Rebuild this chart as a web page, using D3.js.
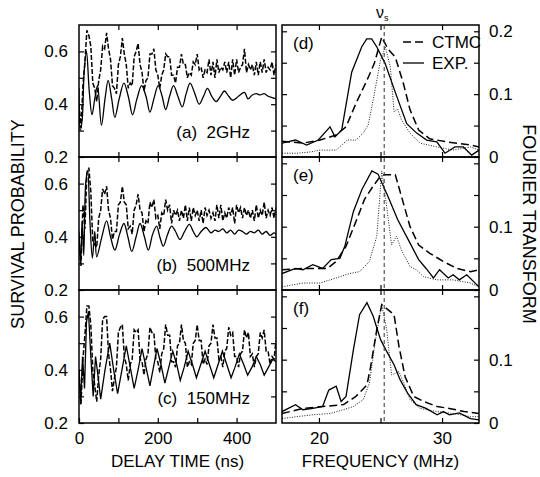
<!DOCTYPE html>
<html>
<head>
<meta charset="utf-8">
<script src="https://cdn.jsdelivr.net/npm/d3@7"></script>
<style>
body { margin: 0; background: #fff; }
.font { font-family: "Liberation Sans", Arial, Helvetica, sans-serif; fill: #000; }
.axis-title { font-size: 17px; }
.side-title { font-size: 18px; }
.panel-label { font-size: 17px; }
.frame { fill: none; stroke: #000; stroke-width: 1.5; }
.axis .domain { display: none; }
.axis line { stroke: #000; stroke-width: 1.2; }
.exp-line { fill: none; stroke: #000; stroke-width: 1.3; }
.ctmc-left { fill: none; stroke: #000; stroke-width: 1.5; stroke-dasharray: 5,2; }
.ctmc-right { fill: none; stroke: #000; stroke-width: 1.5; stroke-dasharray: 8,4; }
.dotted-line { fill: none; stroke: #000; stroke-width: 0.9; stroke-dasharray: 1,1.5; }
.nu-line { stroke: #333; stroke-width: 1; stroke-dasharray: 4,3; }
</style>
</head>
<body>
<svg id="chart" width="540" height="477"></svg>
<script>
// ---- data ----
const panelNames = ["2GHz", "500MHz", "150MHz"];
const panelLetterLeft = ["(a)", "(b)", "(c)"];
const panelLetterRight = ["(d)", "(e)", "(f)"];

// CTMC survival probability, sampled every 5 ns (0..500)
const delayTime = d3.range(0, 501, 5);
const ctmc2GHz = [
    0.40, 0.31, 0.47, 0.56, 0.68, 0.66, 0.62, 0.48, 0.46, 0.41,
    0.49, 0.53, 0.62, 0.61, 0.67, 0.61, 0.57, 0.47, 0.46, 0.44,
    0.55, 0.58, 0.65, 0.59, 0.55, 0.46, 0.48, 0.47, 0.58, 0.60,
    0.63, 0.55, 0.52, 0.45, 0.49, 0.50, 0.59, 0.59, 0.61, 0.53,
    0.51, 0.46, 0.51, 0.53, 0.59, 0.58, 0.58, 0.51, 0.51, 0.48,
    0.54, 0.54, 0.59, 0.55, 0.55, 0.50, 0.52, 0.51, 0.56, 0.55,
    0.59, 0.53, 0.54, 0.50, 0.53, 0.52, 0.57, 0.51, 0.56, 0.50,
    0.57, 0.52, 0.54, 0.53, 0.56, 0.52, 0.56, 0.50, 0.57, 0.51,
    0.57, 0.52, 0.54, 0.55, 0.61, 0.52, 0.55, 0.53, 0.55, 0.51,
    0.56, 0.51, 0.56, 0.52, 0.57, 0.52, 0.54, 0.53, 0.56, 0.51,
    0.55
];
const ctmc500MHz = [
    0.40, 0.29, 0.52, 0.43, 0.64, 0.66, 0.57, 0.38, 0.37, 0.36,
    0.47, 0.50, 0.58, 0.56, 0.59, 0.50, 0.47, 0.39, 0.42, 0.42,
    0.52, 0.53, 0.59, 0.53, 0.52, 0.43, 0.44, 0.41, 0.50, 0.52,
    0.56, 0.50, 0.49, 0.42, 0.46, 0.45, 0.53, 0.51, 0.54, 0.47,
    0.48, 0.43, 0.49, 0.48, 0.54, 0.50, 0.52, 0.45, 0.50, 0.48,
    0.50, 0.46, 0.50, 0.47, 0.52, 0.46, 0.51, 0.46, 0.51, 0.48,
    0.50, 0.46, 0.50, 0.45, 0.51, 0.48, 0.50, 0.47, 0.49, 0.46,
    0.52, 0.47, 0.52, 0.46, 0.49, 0.47, 0.51, 0.48, 0.51, 0.45,
    0.52, 0.49, 0.51, 0.47, 0.51, 0.48, 0.50, 0.47, 0.50, 0.46,
    0.52, 0.47, 0.50, 0.48, 0.53, 0.47, 0.50, 0.48, 0.51, 0.47,
    0.51
];
const ctmc150MHz = [
    0.40, 0.27, 0.44, 0.53, 0.64, 0.64, 0.57, 0.40, 0.34, 0.28,
    0.38, 0.44, 0.59, 0.60, 0.60, 0.46, 0.40, 0.32, 0.37, 0.41,
    0.54, 0.56, 0.57, 0.45, 0.42, 0.36, 0.42, 0.44, 0.55, 0.54,
    0.55, 0.44, 0.43, 0.38, 0.44, 0.46, 0.56, 0.54, 0.54, 0.44,
    0.43, 0.39, 0.46, 0.48, 0.57, 0.53, 0.53, 0.43, 0.43, 0.41,
    0.49, 0.50, 0.57, 0.51, 0.50, 0.41, 0.43, 0.42, 0.50, 0.51,
    0.57, 0.51, 0.51, 0.42, 0.44, 0.42, 0.49, 0.50, 0.57, 0.52,
    0.52, 0.44, 0.45, 0.41, 0.47, 0.48, 0.56, 0.53, 0.54, 0.45,
    0.45, 0.41, 0.46, 0.47, 0.55, 0.52, 0.54, 0.45, 0.46, 0.41,
    0.45, 0.46, 0.54, 0.52, 0.55, 0.47, 0.47, 0.42, 0.45, 0.44,
    0.51
];

// experiment, [delay ns, probability]
const exp2GHz = [
    [0, 0.46], [3, 0.30], [8, 0.34], [13, 0.52], [19, 0.60], [26, 0.45], [33, 0.36],
    [40, 0.42], [47, 0.47], [57, 0.32], [66, 0.42], [74, 0.49], [83, 0.42], [91, 0.35],
    [102, 0.42], [114, 0.48], [125, 0.43], [136, 0.36], [147, 0.42], [159, 0.47],
    [170, 0.43], [180, 0.37], [190, 0.42], [201, 0.47], [211, 0.43], [220, 0.38],
    [230, 0.43], [240, 0.47], [251, 0.43], [262, 0.39], [272, 0.44], [282, 0.48],
    [294, 0.44], [305, 0.40], [316, 0.43], [326, 0.46], [337, 0.43], [348, 0.41],
    [359, 0.43], [369, 0.45], [380, 0.43], [390, 0.415], [405, 0.43], [420, 0.445],
    [429, 0.42], [440, 0.435], [450, 0.44], [460, 0.435], [470, 0.44], [480, 0.43],
    [490, 0.425], [500, 0.42]
];
const exp500MHz = [
    [0, 0.42], [4, 0.30], [8, 0.46], [12, 0.33], [17, 0.60], [22, 0.65], [28, 0.45],
    [34, 0.32], [40, 0.42], [45, 0.325], [58, 0.40], [70, 0.46], [80, 0.40], [91, 0.35],
    [103, 0.41], [114, 0.45], [124, 0.40], [134, 0.345], [145, 0.40], [155, 0.45],
    [166, 0.40], [176, 0.35], [187, 0.41], [197, 0.44], [205, 0.40], [214, 0.365],
    [225, 0.41], [235, 0.44], [245, 0.42], [256, 0.39], [268, 0.42], [280, 0.447],
    [290, 0.42], [299, 0.40], [310, 0.42], [322, 0.435], [335, 0.415], [345, 0.425],
    [355, 0.42], [365, 0.43], [375, 0.415], [385, 0.425], [395, 0.41], [405, 0.425],
    [415, 0.42], [425, 0.41], [435, 0.42], [445, 0.415], [455, 0.425], [465, 0.41],
    [475, 0.42], [485, 0.405], [495, 0.415], [500, 0.41]
];
const exp150MHz = [
    [0, 0.40], [4, 0.27], [9, 0.45], [14, 0.33], [19, 0.58], [24, 0.62], [30, 0.45],
    [36, 0.30], [42, 0.45], [48, 0.38], [55, 0.29], [66, 0.40], [78, 0.50], [88, 0.40],
    [98, 0.31], [109, 0.40], [120, 0.49], [130, 0.41], [140, 0.33], [150, 0.40],
    [160, 0.48], [170, 0.41], [180, 0.34], [189, 0.41], [198, 0.48], [208, 0.42],
    [218, 0.35], [228, 0.41], [238, 0.47], [248, 0.42], [257, 0.36], [267, 0.41],
    [277, 0.47], [288, 0.42], [298, 0.37], [309, 0.42], [320, 0.47], [331, 0.42],
    [342, 0.37], [353, 0.42], [364, 0.47], [375, 0.42], [386, 0.37], [396, 0.41],
    [407, 0.46], [418, 0.42], [428, 0.38], [439, 0.41], [450, 0.45], [460, 0.42],
    [470, 0.38], [481, 0.41], [492, 0.44], [500, 0.43]
];

// Fourier transforms, [frequency MHz, amplitude]
const ftExp2GHz = [
    [17.0, 0.022], [18.1, 0.027], [19.0, 0.019], [19.95, 0.027], [20.9, 0.048],
    [21.3, 0.032], [21.85, 0.043], [22.66, 0.135], [23.47, 0.175], [23.88, 0.188],
    [24.28, 0.188], [24.7, 0.175], [25.37, 0.149], [26.18, 0.104], [27.13, 0.053],
    [27.94, 0.038], [28.75, 0.027], [29.57, 0.024], [30.24, 0.006], [31.05, 0.016],
    [31.73, 0.016], [32.41, 0.003], [33.0, 0.011]
];
const ftCtmc2GHz = [
    [17.0, 0.025], [18.7, 0.022], [20.1, 0.027], [21.4, 0.035], [22.2, 0.048],
    [23.0, 0.085], [23.9, 0.122], [24.5, 0.149], [25.1, 0.191], [25.6, 0.172],
    [26.2, 0.159], [26.86, 0.117], [27.4, 0.075], [28.1, 0.043], [29.0, 0.029],
    [30.4, 0.024], [32.3, 0.019], [33.0, 0.016]
];
const ftDot2GHz = [
    [17.0, 0.006], [18.2, 0.006], [19.3, 0.008], [20.1, 0.011], [21.4, 0.011],
    [22.3, 0.027], [23.0, 0.027], [23.6, 0.038], [24.0, 0.051], [24.4, 0.09],
    [25.0, 0.154], [25.4, 0.175], [25.8, 0.143], [26.1, 0.072], [26.4, 0.076],
    [26.7, 0.059], [27.4, 0.038], [28.2, 0.022], [29.6, 0.016], [30.9, 0.011],
    [32.3, 0.016], [33.0, 0.011]
];
const ftExp500MHz = [
    [17.0, 0.026], [18.1, 0.034], [18.7, 0.032], [19.5, 0.040], [20.3, 0.034],
    [21.0, 0.048], [21.7, 0.050], [22.1, 0.069], [22.8, 0.124], [23.5, 0.159],
    [24.3, 0.188], [24.8, 0.183], [25.6, 0.148], [26.4, 0.111], [27.4, 0.074],
    [28.1, 0.048], [28.7, 0.034], [29.3, 0.019], [29.8, 0.032], [30.5, 0.019],
    [30.9, 0.024], [31.4, 0.016], [32.0, 0.024], [33.0, 0.005]
];
const ftCtmc500MHz = [
    [17.0, 0.032], [18.7, 0.034], [19.8, 0.034], [20.7, 0.034], [21.4, 0.045],
    [22.2, 0.069], [23.0, 0.108], [23.7, 0.143], [24.4, 0.164], [24.9, 0.177],
    [25.3, 0.182], [26.2, 0.182], [26.7, 0.148], [27.4, 0.100], [28.1, 0.071],
    [29.0, 0.058], [30.1, 0.045], [31.2, 0.034], [32.3, 0.029], [33.0, 0.032]
];
const ftDot500MHz = [
    [17.0, 0.005], [18.7, 0.011], [20.1, 0.011], [21.4, 0.019], [22.5, 0.026],
    [23.3, 0.029], [24.1, 0.045], [24.7, 0.085], [25.1, 0.188], [25.5, 0.132],
    [25.9, 0.071], [26.3, 0.085], [26.7, 0.063], [27.4, 0.037], [27.9, 0.032],
    [28.5, 0.021], [29.6, 0.016], [30.9, 0.016], [32.3, 0.011], [33.0, 0.005]
];
const ftExp150MHz = [
    [17.0, 0.018], [18.1, 0.029], [18.7, 0.021], [19.5, 0.023], [20.3, 0.026],
    [20.8, 0.052], [21.4, 0.058], [21.8, 0.034], [22.2, 0.042], [22.8, 0.116],
    [23.3, 0.171], [23.9, 0.190], [24.4, 0.169], [25.0, 0.132], [25.5, 0.113],
    [26.1, 0.092], [26.6, 0.068], [27.2, 0.047], [27.9, 0.029], [28.7, 0.023],
    [29.6, 0.013], [30.1, 0.018], [30.6, 0.013], [31.4, 0.016], [32.3, 0.007],
    [33.0, 0.005]
];
const ftCtmc150MHz = [
    [17.0, 0.015], [18.7, 0.023], [20.3, 0.026], [22.0, 0.029], [23.0, 0.042],
    [23.9, 0.060], [24.2, 0.089], [24.7, 0.148], [25.1, 0.187], [25.6, 0.179],
    [26.1, 0.171], [26.5, 0.121], [27.0, 0.073], [27.7, 0.042], [28.5, 0.034],
    [29.6, 0.026], [30.6, 0.023], [31.8, 0.018], [33.0, 0.015]
];
const ftDot150MHz = [
    [17.0, 0.007], [18.2, 0.010], [19.5, 0.013], [20.9, 0.015], [22.0, 0.021],
    [22.8, 0.026], [23.6, 0.037], [24.1, 0.063], [24.6, 0.132], [25.1, 0.187],
    [25.5, 0.148], [25.9, 0.076], [26.5, 0.081], [26.9, 0.063], [27.4, 0.037],
    [28.2, 0.023], [29.6, 0.018], [30.9, 0.015], [32.3, 0.010], [33.0, 0.010]
];
const nuS = 25.3;

const probTicks = [0.3, 0.4, 0.5, 0.6];
const probLabels = [0.2, 0.4, 0.6];
const timeTicks = [100, 200, 300, 400];
const timeLabels = [0, 200, 400];
const ftTicks = [0.05, 0.1, 0.15, 0.2];
const freqTicks = [20, 25, 30];
const freqLabels = [20, 30];

// ---- layout ----
const LEFT_X = [79, 276];
const RIGHT_X = [282, 479];
const ROW_TOP = [25, 157, 290];
const ROW_BOTTOM = [157, 290, 423];
const TICK = 5;
const LABEL_SIZE = "17px";

const svg = d3.select("#chart");

const timeScale = d3.scaleLinear().domain([0, 500]).range(LEFT_X);
const freqScale = d3.scaleLinear().domain([17, 33]).range(RIGHT_X);

const ctmcSeries = [ctmc2GHz, ctmc500MHz, ctmc150MHz];
const expSeries = [exp2GHz, exp500MHz, exp150MHz];
const ftExpSeries = [ftExp2GHz, ftExp500MHz, ftExp150MHz];
const ftCtmcSeries = [ftCtmc2GHz, ftCtmc500MHz, ftCtmc150MHz];
const ftDotSeries = [ftDot2GHz, ftDot500MHz, ftDot150MHz];

function fmtProb(d) { return d3.format(".1f")(d); }
function fmtFt(d) { return d === 0 ? "0" : d3.format(".1f")(d); }

function drawAxis(axis, position) {
    var g = svg.append("g")
        .classed("axis font", true)
        .attr("transform", position)
        .call(axis);
    g.selectAll("text")
        .style("font-size", LABEL_SIZE)
        .style("font-family", "\"Liberation Sans\", Arial, Helvetica, sans-serif");
    return g;
}

function drawRow(i) {
    var rowTop = ROW_TOP[i], rowBottom = ROW_BOTTOM[i];
    var probScale = d3.scaleLinear().domain([0.2, 0.7]).range([rowBottom, rowTop]);
    var ftScale = d3.scaleLinear().domain([0, 0.21]).range([rowBottom, rowTop]);

    // clip paths
    svg.append("clipPath").attr("id", "clipL" + i).append("rect")
        .attr("x", LEFT_X[0]).attr("y", rowTop)
        .attr("width", LEFT_X[1] - LEFT_X[0]).attr("height", rowBottom - rowTop);
    svg.append("clipPath").attr("id", "clipR" + i).append("rect")
        .attr("x", RIGHT_X[0]).attr("y", rowTop)
        .attr("width", RIGHT_X[1] - RIGHT_X[0]).attr("height", rowBottom - rowTop);

    // left: survival probability
    var leftLines = svg.append("g").attr("clip-path", "url(#clipL" + i + ")");
    var ctmcLine = d3.line()
        .x(function (d, k) { return timeScale(delayTime[k]); })
        .y(function (d) { return probScale(d); });
    leftLines.append("path")
        .datum(ctmcSeries[i])
        .classed("ctmc-left", true)
        .attr("d", ctmcLine);
    var expLine = d3.line()
        .x(function (d) { return timeScale(d[0]); })
        .y(function (d) { return probScale(d[1]); })
        .curve(i === 2 ? d3.curveLinear : d3.curveCatmullRom.alpha(0.5));
    leftLines.append("path")
        .datum(expSeries[i])
        .classed("exp-line", true)
        .attr("d", expLine);

    // right: Fourier transform
    var rightLines = svg.append("g").attr("clip-path", "url(#clipR" + i + ")");
    var ftLine = d3.line()
        .x(function (d) { return freqScale(d[0]); })
        .y(function (d) { return ftScale(d[1]); });
    rightLines.append("path").datum(ftDotSeries[i]).classed("dotted-line", true).attr("d", ftLine);
    rightLines.append("path").datum(ftCtmcSeries[i]).classed("ctmc-right", true).attr("d", ftLine);
    rightLines.append("path").datum(ftExpSeries[i]).classed("exp-line", true).attr("d", ftLine);

    // left panel axes (ticks inward)
    drawAxis(d3.axisLeft(probScale).tickValues(probTicks.concat([0.2]))
        .tickSizeInner(-TICK).tickSizeOuter(0).tickPadding(11)
        .tickFormat(function (d) { return probLabels.indexOf(d) >= 0 ? fmtProb(d) : ""; }),
        "translate(" + LEFT_X[0] + ",0)");
    drawAxis(d3.axisRight(probScale).tickValues(probTicks)
        .tickSizeInner(-TICK).tickSizeOuter(0).tickFormat(""),
        "translate(" + LEFT_X[1] + ",0)");
    var isBottom = (i === 2);
    drawAxis(d3.axisBottom(timeScale).tickValues(isBottom ? timeTicks.concat([0]) : timeTicks)
        .tickSizeInner(-TICK).tickSizeOuter(0).tickPadding(9)
        .tickFormat(function (d) { return isBottom && timeLabels.indexOf(d) >= 0 ? d : ""; }),
        "translate(0," + rowBottom + ")");
    drawAxis(d3.axisTop(timeScale).tickValues(timeTicks)
        .tickSizeInner(-TICK).tickSizeOuter(0).tickFormat(""),
        "translate(0," + rowTop + ")");

    // right panel axes
    drawAxis(d3.axisLeft(ftScale).tickValues(ftTicks)
        .tickSizeInner(-TICK).tickSizeOuter(0).tickFormat(""),
        "translate(" + RIGHT_X[0] + ",0)");
    var ftLabels = (i === 0) ? [0, 0.1, 0.2] : [0, 0.1];
    drawAxis(d3.axisRight(ftScale).tickValues(ftTicks.concat([0]))
        .tickSizeInner(-TICK).tickSizeOuter(0).tickPadding(10)
        .tickFormat(function (d) { return ftLabels.indexOf(d) >= 0 ? fmtFt(d) : ""; }),
        "translate(" + RIGHT_X[1] + ",0)");
    drawAxis(d3.axisBottom(freqScale).tickValues(freqTicks)
        .tickSizeInner(-TICK).tickSizeOuter(0).tickPadding(9)
        .tickFormat(function (d) { return isBottom && freqLabels.indexOf(d) >= 0 ? d : ""; }),
        "translate(0," + rowBottom + ")");
    drawAxis(d3.axisTop(freqScale).tickValues(freqTicks)
        .tickSizeInner(-TICK).tickSizeOuter(0).tickFormat(""),
        "translate(0," + rowTop + ")");

    // frames
    svg.append("rect").classed("frame", true)
        .attr("x", LEFT_X[0]).attr("y", rowTop)
        .attr("width", LEFT_X[1] - LEFT_X[0]).attr("height", rowBottom - rowTop);
    svg.append("rect").classed("frame", true)
        .attr("x", RIGHT_X[0]).attr("y", rowTop)
        .attr("width", RIGHT_X[1] - RIGHT_X[0]).attr("height", rowBottom - rowTop);

    // panel labels
    svg.append("text").classed("font panel-label", true)
        .attr("x", 250).attr("y", rowBottom - 19)
        .attr("text-anchor", "end")
        .attr("xml:space", "preserve")
        .text(panelLetterLeft[i] + "  " + panelNames[i]);
    svg.append("text").classed("font panel-label", true)
        .attr("x", RIGHT_X[0] + 11).attr("y", rowTop + 24)
        .text(panelLetterRight[i]);
}

for (var r = 0; r < 3; r++) {
    drawRow(r);
}

// nu_s marker
svg.append("line").classed("nu-line", true)
    .attr("x1", freqScale(nuS)).attr("x2", freqScale(nuS))
    .attr("y1", ROW_TOP[0]).attr("y2", ROW_BOTTOM[2]);
var nuLabel = svg.append("text").classed("font", true)
    .attr("x", freqScale(nuS) - 2).attr("y", 18)
    .attr("text-anchor", "middle")
    .style("font-size", "16px");
nuLabel.append("tspan").text("\u03bd");
nuLabel.append("tspan").attr("dy", 3).style("font-size", "9px").text("s");

// legend in (d)
var legendItems = [["CTMC", "ctmc-right", 42], ["EXP.", "exp-line", 63]];
legendItems.forEach(function (d) {
    svg.append("line").classed(d[1], true)
        .attr("x1", 403).attr("x2", 424).attr("y1", d[2]).attr("y2", d[2]);
    svg.append("text").classed("font panel-label", true)
        .attr("x", 432).attr("y", d[2] + 6).text(d[0]);
});

// axis titles
svg.append("text").classed("font axis-title", true)
    .attr("x", (LEFT_X[0] + LEFT_X[1]) / 2).attr("y", 467)
    .attr("text-anchor", "middle").text("DELAY TIME (ns)");
svg.append("text").classed("font axis-title", true)
    .attr("x", (RIGHT_X[0] + RIGHT_X[1]) / 2).attr("y", 467)
    .attr("text-anchor", "middle").text("FREQUENCY (MHz)");
svg.append("text").classed("font side-title", true)
    .attr("transform", "translate(24," + (ROW_TOP[0] + ROW_BOTTOM[2]) / 2 + ") rotate(-90)")
    .attr("text-anchor", "middle").text("SURVIVAL PROBABILITY");
svg.append("text").classed("font side-title", true)
    .attr("transform", "translate(523," + (ROW_TOP[0] + ROW_BOTTOM[2]) / 2 + ") rotate(90)")
    .attr("text-anchor", "middle").text("FOURIER TRANSFORM");
</script>
</body>
</html>
